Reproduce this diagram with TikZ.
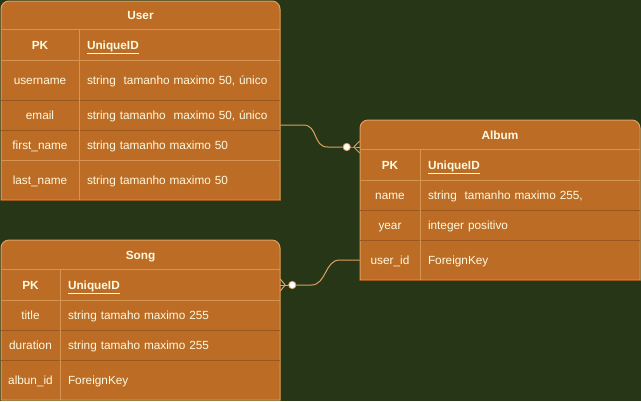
\documentclass[tikz,border=0pt]{standalone}
\usepackage{fontspec}
\setmainfont{Liberation Sans}
\usepackage{xcolor}
\usetikzlibrary{calc}

\definecolor{bgdark}{HTML}{283618}
\definecolor{tablefill}{HTML}{BC6C25}
\definecolor{tableline}{HTML}{DDA15E}
\definecolor{rowline}{HTML}{9A581F}
\definecolor{textlight}{HTML}{FEFAE0}

\tikzset{
  tablebox/.style={fill=tablefill, draw=tableline, line width=0.75pt},
  lightsep/.style={draw=tableline!75!tablefill, line width=0.75pt},
  darksep/.style={draw=rowline, line width=0.75pt},
  cellfont/.style={text=textlight, font=\fontsize{8.85}{11}\selectfont, text height=7.75pt, text depth=1.25pt},
  titlecell/.style={cellfont, font=\fontsize{8.85}{11}\selectfont\bfseries, inner sep=0pt, minimum width=#1*0.75pt, minimum height=29*0.75pt},
  keycell/.style 2 args={cellfont, inner sep=0pt, minimum width=#1*0.75pt, minimum height=#2*0.75pt},
  valcell/.style 2 args={cellfont, inner xsep=6pt, inner ysep=0pt, text width=#1, align=left, minimum height=#2*0.75pt},
  connector/.style={draw=tableline, line width=0.75pt},
  zerodot/.style={circle, fill=white, draw=tableline, line width=0.6pt, inner sep=0pt, minimum size=5.5pt}
}

\begin{document}
\begin{tikzpicture}[x=0.75pt, y=-0.75pt]
\fill[bgdark] (0,0) rectangle (641,401);
\useasboundingbox (0,0) rectangle (641,401);

% User
\draw[tablebox] (1,200) -- (1,9) arc[start angle=180, end angle=270, radius=8] -- (272,1) arc[start angle=270, end angle=360, radius=8] -- (280,200) -- cycle;
\node[titlecell=279] (user-title) at (140.5,15.5) {User};
\node[keycell={78}{30}, font=\fontsize{8.85}{11}\selectfont\bfseries] (user-pk-k) at (40,45) {PK};
\node[valcell={138.75pt}{30}, font=\fontsize{8.85}{11}\selectfont\bfseries] (user-pk-v) at (179.5,45) {\underline{UniqueID}};
\node[keycell={78}{40}] (user-username-k) at (40,80) {username};
\node[valcell={138.75pt}{40}] (user-username-v) at (179.5,80) {string\ \ tamanho maximo 50, único};
\node[keycell={78}{30}] (user-email-k) at (40,115) {email};
\node[valcell={138.75pt}{30}] (user-email-v) at (179.5,115) {string tamanho\ \ maximo 50, único};
\node[keycell={78}{30}] (user-first-k) at (40,145) {first\_name};
\node[valcell={138.75pt}{30}] (user-first-v) at (179.5,145) {string tamanho maximo 50};
\node[keycell={78}{40}] (user-last-k) at (40,180) {last\_name};
\node[valcell={138.75pt}{40}] (user-last-v) at (179.5,180) {string tamanho maximo 50};
\draw[lightsep] (user-pk-k.north west) -- (user-pk-v.north east);
\draw[lightsep] (user-pk-k.south west) -- (user-pk-v.south east);
\draw[darksep] (user-username-k.south west) -- (user-username-v.south east);
\draw[darksep] (user-email-k.south west) -- (user-email-v.south east);
\draw[lightsep] (user-first-k.south west) -- (user-first-v.south east);
\draw[lightsep] (user-pk-k.north east) -- (user-last-k.south east);
\draw[darksep] (user-last-k.south west) -- (user-last-v.south east);

% Album
\draw[tablebox] (360,280) -- (360,128) arc[start angle=180, end angle=270, radius=8] -- (632,120) arc[start angle=270, end angle=360, radius=8] -- (640,280) -- cycle;
\node[titlecell=280] (album-title) at (500,135) {Album};
\node[keycell={60}{30}, font=\fontsize{8.85}{11}\selectfont\bfseries] (album-pk-k) at (390,165) {PK};
\node[valcell={153pt}{30}, font=\fontsize{8.85}{11}\selectfont\bfseries] (album-pk-v) at (530,165) {\underline{UniqueID}};
\node[keycell={60}{30}] (album-name-k) at (390,195) {name};
\node[valcell={153pt}{30}] (album-name-v) at (530,195) {string\ \ tamanho maximo 255,};
\node[keycell={60}{30}] (album-year-k) at (390,225) {year};
\node[valcell={153pt}{30}] (album-year-v) at (530,225) {integer positivo};
\node[keycell={60}{40}] (album-userid-k) at (390,260) {user\_id};
\node[valcell={153pt}{40}] (album-userid-v) at (530,260) {ForeignKey};
\draw[lightsep] (album-pk-k.north west) -- (album-pk-v.north east);
\draw[lightsep] (album-pk-k.south west) -- (album-pk-v.south east);
\draw[darksep] (album-name-k.south west) -- (album-name-v.south east);
\draw[darksep] (album-year-k.south west) -- (album-year-v.south east);
\draw[lightsep] (album-pk-k.north east) -- (album-userid-k.south east);
\draw[darksep] (album-userid-k.south west) -- (album-userid-v.south east);

% Song
\draw[tablebox] (1,400) -- (1,248) arc[start angle=180, end angle=270, radius=8] -- (272,240) arc[start angle=270, end angle=360, radius=8] -- (280,400) -- cycle;
\node[titlecell=279] (song-title) at (140.5,255) {Song};
\node[keycell={59}{30}, font=\fontsize{8.85}{11}\selectfont\bfseries] (song-pk-k) at (30.5,285) {PK};
\node[valcell={153pt}{30}, font=\fontsize{8.85}{11}\selectfont\bfseries] (song-pk-v) at (170,285) {\underline{UniqueID}};
\node[keycell={59}{30}] (song-title-k) at (30.5,315) {title};
\node[valcell={153pt}{30}] (song-title-v) at (170,315) {string tamaho maximo 255};
\node[keycell={59}{30}] (song-duration-k) at (30.5,345) {duration};
\node[valcell={153pt}{30}] (song-duration-v) at (170,345) {string tamaho maximo 255};
\node[keycell={59}{40}] (song-albunid-k) at (30.5,380) {albun\_id};
\node[valcell={153pt}{40}] (song-albunid-v) at (170,380) {ForeignKey};
\draw[lightsep] (song-pk-k.north west) -- (song-pk-v.north east);
\draw[lightsep] (song-pk-k.south west) -- (song-pk-v.south east);
\draw[darksep] (song-title-k.south west) -- (song-title-v.south east);
\draw[darksep] (song-duration-k.south west) -- (song-duration-v.south east);
\draw[lightsep] (song-pk-k.north east) -- (song-albunid-k.south east);

% user -> album
\coordinate (album-foot) at ($(album-title.west)+(0,12)$);
\node[zerodot] (album-dot) at ($(album-foot)+(-13,0)$) {};
\draw[connector] ($(user-email-v.east)+(0,10)$) -- ++(23,0) .. controls +(15,0) and +(-15,0) .. ($(album-dot.west)+(-15,0)$) -- (album-dot.west);
\draw[connector] (album-dot.east) -- ++(3,0) coordinate (album-crow) -- (album-foot);
\draw[connector] (album-crow) -- ($(album-foot)+(0,-6)$);
\draw[connector] (album-crow) -- ($(album-foot)+(0,6)$);

% album -> song
\node[zerodot] (song-dot) at ($(song-pk-v.east)+(12,0)$) {};
\draw[connector] (album-userid-k.west) -- ++(-20,0) .. controls +(-15,0) and +(15,0) .. ($(song-dot.east)+(15,0)$) -- (song-dot.east);
\draw[connector] (song-dot.west) -- ++(-3,0) coordinate (song-crow) -- (song-pk-v.east);
\draw[connector] (song-crow) -- ($(song-pk-v.east)+(0,-6)$);
\draw[connector] (song-crow) -- ($(song-pk-v.east)+(0,6)$);
\end{tikzpicture}
\end{document}
